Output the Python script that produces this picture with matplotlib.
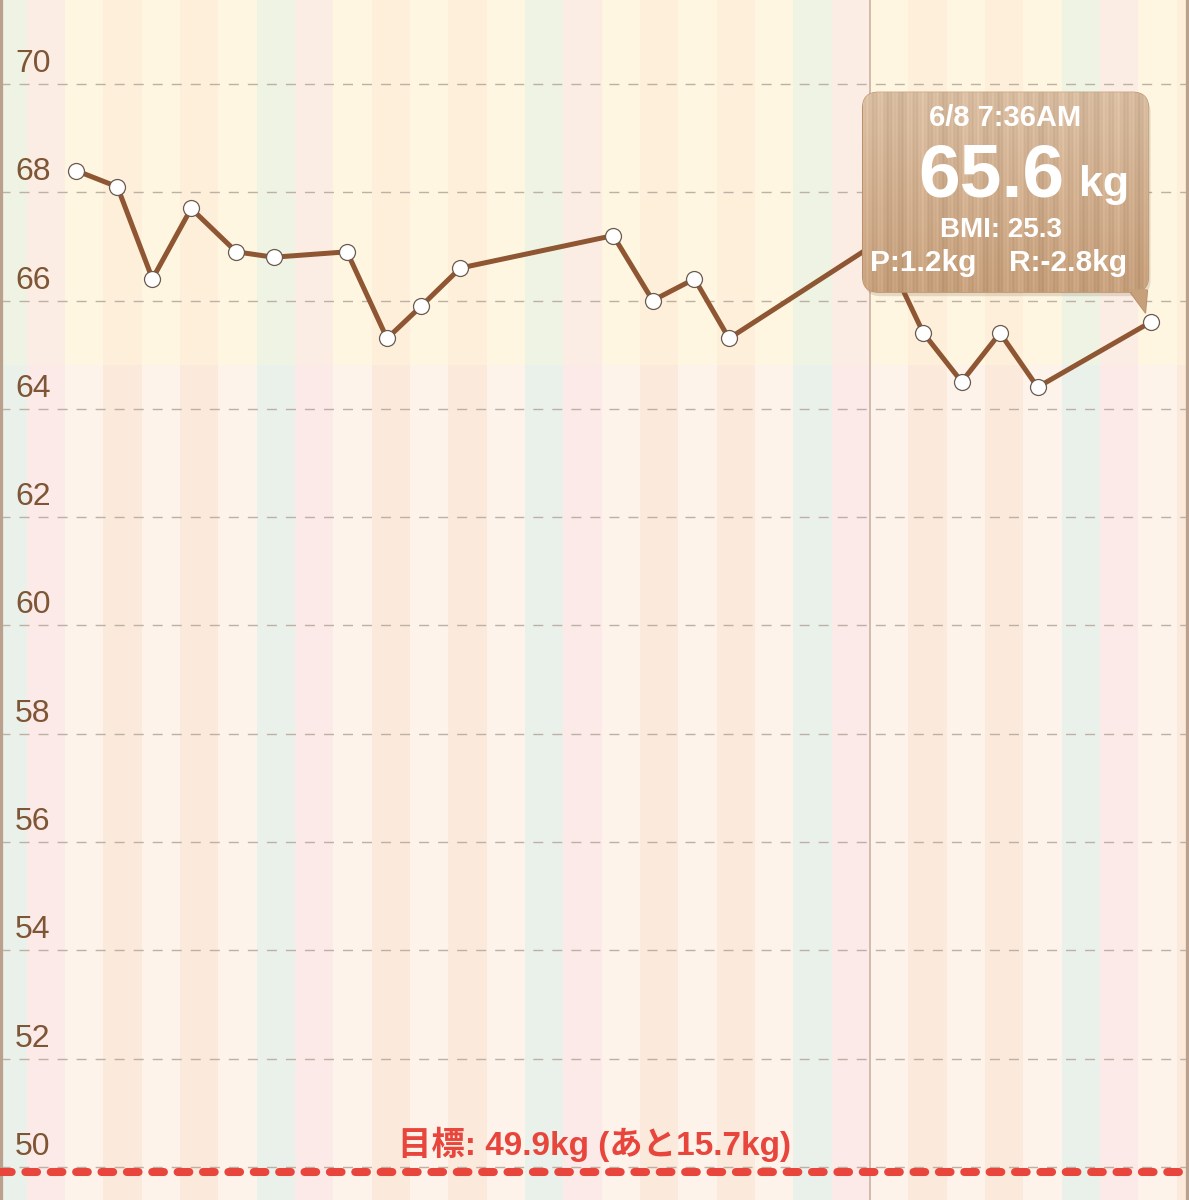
import matplotlib
matplotlib.use("Agg")
import matplotlib.pyplot as plt
import matplotlib.dates as mdates
from matplotlib.patches import FancyBboxPatch, Polygon, Rectangle
from matplotlib.transforms import IdentityTransform
import numpy as np
import pandas as pd

# weigh-ins
times = ["2015-05-11 06:53", "2015-05-12 08:47", "2015-05-13 06:42", "2015-05-14 06:58",
         "2015-05-15 11:10", "2015-05-16 10:34", "2015-05-18 08:31", "2015-05-19 09:36",
         "2015-05-20 07:05", "2015-05-21 07:26", "2015-05-25 07:12", "2015-05-26 07:55",
         "2015-05-27 10:05", "2015-05-28 07:41", "2015-06-01 06:00", "2015-06-02 09:22",
         "2015-06-03 09:22", "2015-06-04 09:22", "2015-06-05 08:53", "2015-06-08 07:36"]
weights = [68.4, 68.1, 66.4, 67.7, 66.9, 66.8, 66.9, 65.3, 65.9, 66.6,
           67.2, 66.0, 66.4, 65.3, 67.1, 65.4, 64.5, 65.4, 64.4, 65.6]

y_ticks = [50, 52, 54, 56, 58, 60, 62, 64, 66, 68, 70]
goal = 49.9
height_m = 1.61
month_start = "2015-06-01"
first_day = "2015-05-09"
last_day = "2015-06-09"

# stripe colours per weekday group: (BMI >= 25 zone, below)
stripe_colors = {
    "a":   ("#FEF6E0", "#FDF3EA"),   # Mon / Wed / Fri
    "b":   ("#FDEFD9", "#FBE9DC"),   # Tue / Thu
    "sat": ("#EFF3E3", "#EAF1EA"),
    "sun": ("#FCEDE4", "#FBEAE8"),
}
weekday_group = ["a", "b", "a", "b", "a", "sat", "sun"]

W, H, DPI = 1189, 1200, 100
fig = plt.figure(figsize=(W / DPI, H / DPI), dpi=DPI)
ax = fig.add_axes([0, 0, 1, 1])

t = mdates.date2num(pd.to_datetime(times))
d0 = mdates.date2num(pd.Timestamp("2015-05-10"))
ax.set_xlim(d0 - 0.697, d0 + 30.32)
ax.set_ylim(49.39, 71.55)

bmi25 = 25 * height_m ** 2
ylo, yhi = ax.get_ylim()

# day stripes
for day in pd.date_range(first_day, last_day):
    x = mdates.date2num(day)
    up, low = stripe_colors[weekday_group[day.weekday()]]
    ax.add_patch(Rectangle((x, bmi25), 1, yhi - bmi25, facecolor=up, lw=0, zorder=0))
    ax.add_patch(Rectangle((x, ylo), 1, bmi25 - ylo, facecolor=low, lw=0, zorder=0))

# grid + labels
for v in y_ticks:
    ax.axhline(v, color="#BDB0A4", lw=1.0, dashes=(7.2, 6.5), zorder=1)
    ax.text(15 / W, v + 12 / 54.15, str(v), transform=ax.get_yaxis_transform(),
            fontsize=23, color="#7E5535", family="Liberation Sans", va="baseline", zorder=2)

ax.axvline(mdates.date2num(pd.Timestamp(month_start)), color="#C6AC9A", lw=1.1, zorder=1)

# goal line
ax.axhline(goal, color="#E8453C", lw=5.8, dashes=(1.45, 1.7), dash_capstyle="round", zorder=3)
remain = weights[-1] - goal
ax.text(0.5, goal + 0.32, f"目標: {goal:.1f}kg (あと{remain:.1f}kg)", transform=ax.get_yaxis_transform(),
        ha="center", va="baseline", fontsize=24, fontweight="bold", color="#E8453C",
        family=["Liberation Sans", "Noto Sans CJK JP"], zorder=3)

# weight line
ax.plot(t, weights, color="#8E5632", lw=3.6, zorder=4, solid_joinstyle="round")
ax.plot(t, weights, "o", ms=11.5, mfc="white", mec="#6B5A50", mew=0.9, zorder=5)

for s in ["top", "bottom"]:
    ax.spines[s].set_visible(False)
for s in ["left", "right"]:
    ax.spines[s].set_color("#B9A18D")
    ax.spines[s].set_linewidth(4.5)
ax.set_xticks([])
ax.set_yticks([])

# tooltip for the latest weigh-in
fig.canvas.draw()
px, py = ax.transData.transform((t[-1], weights[-1]))
bx0, bx1 = px - 288, px - 2
by0, by1 = py + 30, py + 230
ident = IdentityTransform()

shadow = FancyBboxPatch((bx0 + 2, by0 - 4), bx1 - bx0, by1 - by0,
                        boxstyle="round,pad=0,rounding_size=16", transform=ident,
                        facecolor="#7A5A40", alpha=0.18, lw=0, zorder=6)
ax.add_patch(shadow)
tail = Polygon([(px - 22, by0 + 2), (px - 3, by0 + 2), (px - 5, py + 9)], closed=True,
               transform=ident, facecolor="#C9A27E", edgecolor="#B8906C", lw=0.8, zorder=7)
ax.add_patch(tail)
box = FancyBboxPatch((bx0, by0), bx1 - bx0, by1 - by0,
                     boxstyle="round,pad=0,rounding_size=16", transform=ident,
                     facecolor="#CFAE8E", edgecolor="#B8906C", lw=0.8, zorder=7)
ax.add_patch(box)

# wood grain fill
nw, nh = int(bx1 - bx0), int(by1 - by0)
gx = np.arange(nw)[None, :]
gy = np.linspace(0, 1, nh)[:, None]
grain = 0.025 * np.sin(gx * 0.45) + 0.018 * np.sin(gx * 1.7 + 1.3) + 0.012 * np.sin(gx * 0.13 + 0.4)
top = np.array([0xD8, 0xBC, 0xA0]) / 255
bot = np.array([0xC6, 0x9F, 0x7B]) / 255
img = top[None, None, :] * (1 - gy[..., None]) + bot[None, None, :] * gy[..., None]
img = np.clip(img + grain[..., None], 0, 1)
inv = ax.transData.inverted()
(ex0, ey0), (ex1, ey1) = inv.transform([(bx0, by0), (bx1, by1)])
xl, yl = ax.get_xlim(), ax.get_ylim()
im = ax.imshow(img, extent=(ex0, ex1, ey0, ey1), origin="upper", aspect="auto", zorder=8)
im.set_clip_path(box)
ax.set_xlim(xl)
ax.set_ylim(yl)

# tail fill over the seam
tail2 = Polygon([(px - 21, by0 + 3), (px - 4, by0 + 3), (px - 5.5, py + 10)], closed=True,
                transform=ident, facecolor="#C69F7B", lw=0, zorder=8)
ax.add_patch(tail2)

tip_dt = pd.Timestamp(times[-1])
stamp = f"{tip_dt.month}/{tip_dt.day} {tip_dt.strftime('%I:%M%p').lstrip('0')}"
bmi = weights[-1] / height_m ** 2
prev_diff = weights[-1] - weights[-2]
total_diff = weights[-1] - weights[0]
tk = dict(transform=ident, color="white", fontweight="bold", family="Liberation Sans",
          va="baseline", zorder=9)
ax.text(px - 145, py + 196, stamp, ha="center", fontsize=21, **tk)
ax.text(px - 86, py + 126, f"{weights[-1]:.1f}", ha="right", fontsize=54, **tk)
ax.text(px - 72, py + 126, "kg", ha="left", fontsize=31, **tk)
ax.text(px - 150, py + 85, f"BMI: {bmi:.1f}", ha="center", fontsize=20, **tk)
ax.text(px - 281, py + 51, f"P:{prev_diff:.1f}kg", ha="left", fontsize=21.5, **tk)
ax.text(px - 142, py + 51, f"R:{total_diff:.1f}kg", ha="left", fontsize=21.5, **tk)

fig.savefig("out.png", dpi=DPI)
